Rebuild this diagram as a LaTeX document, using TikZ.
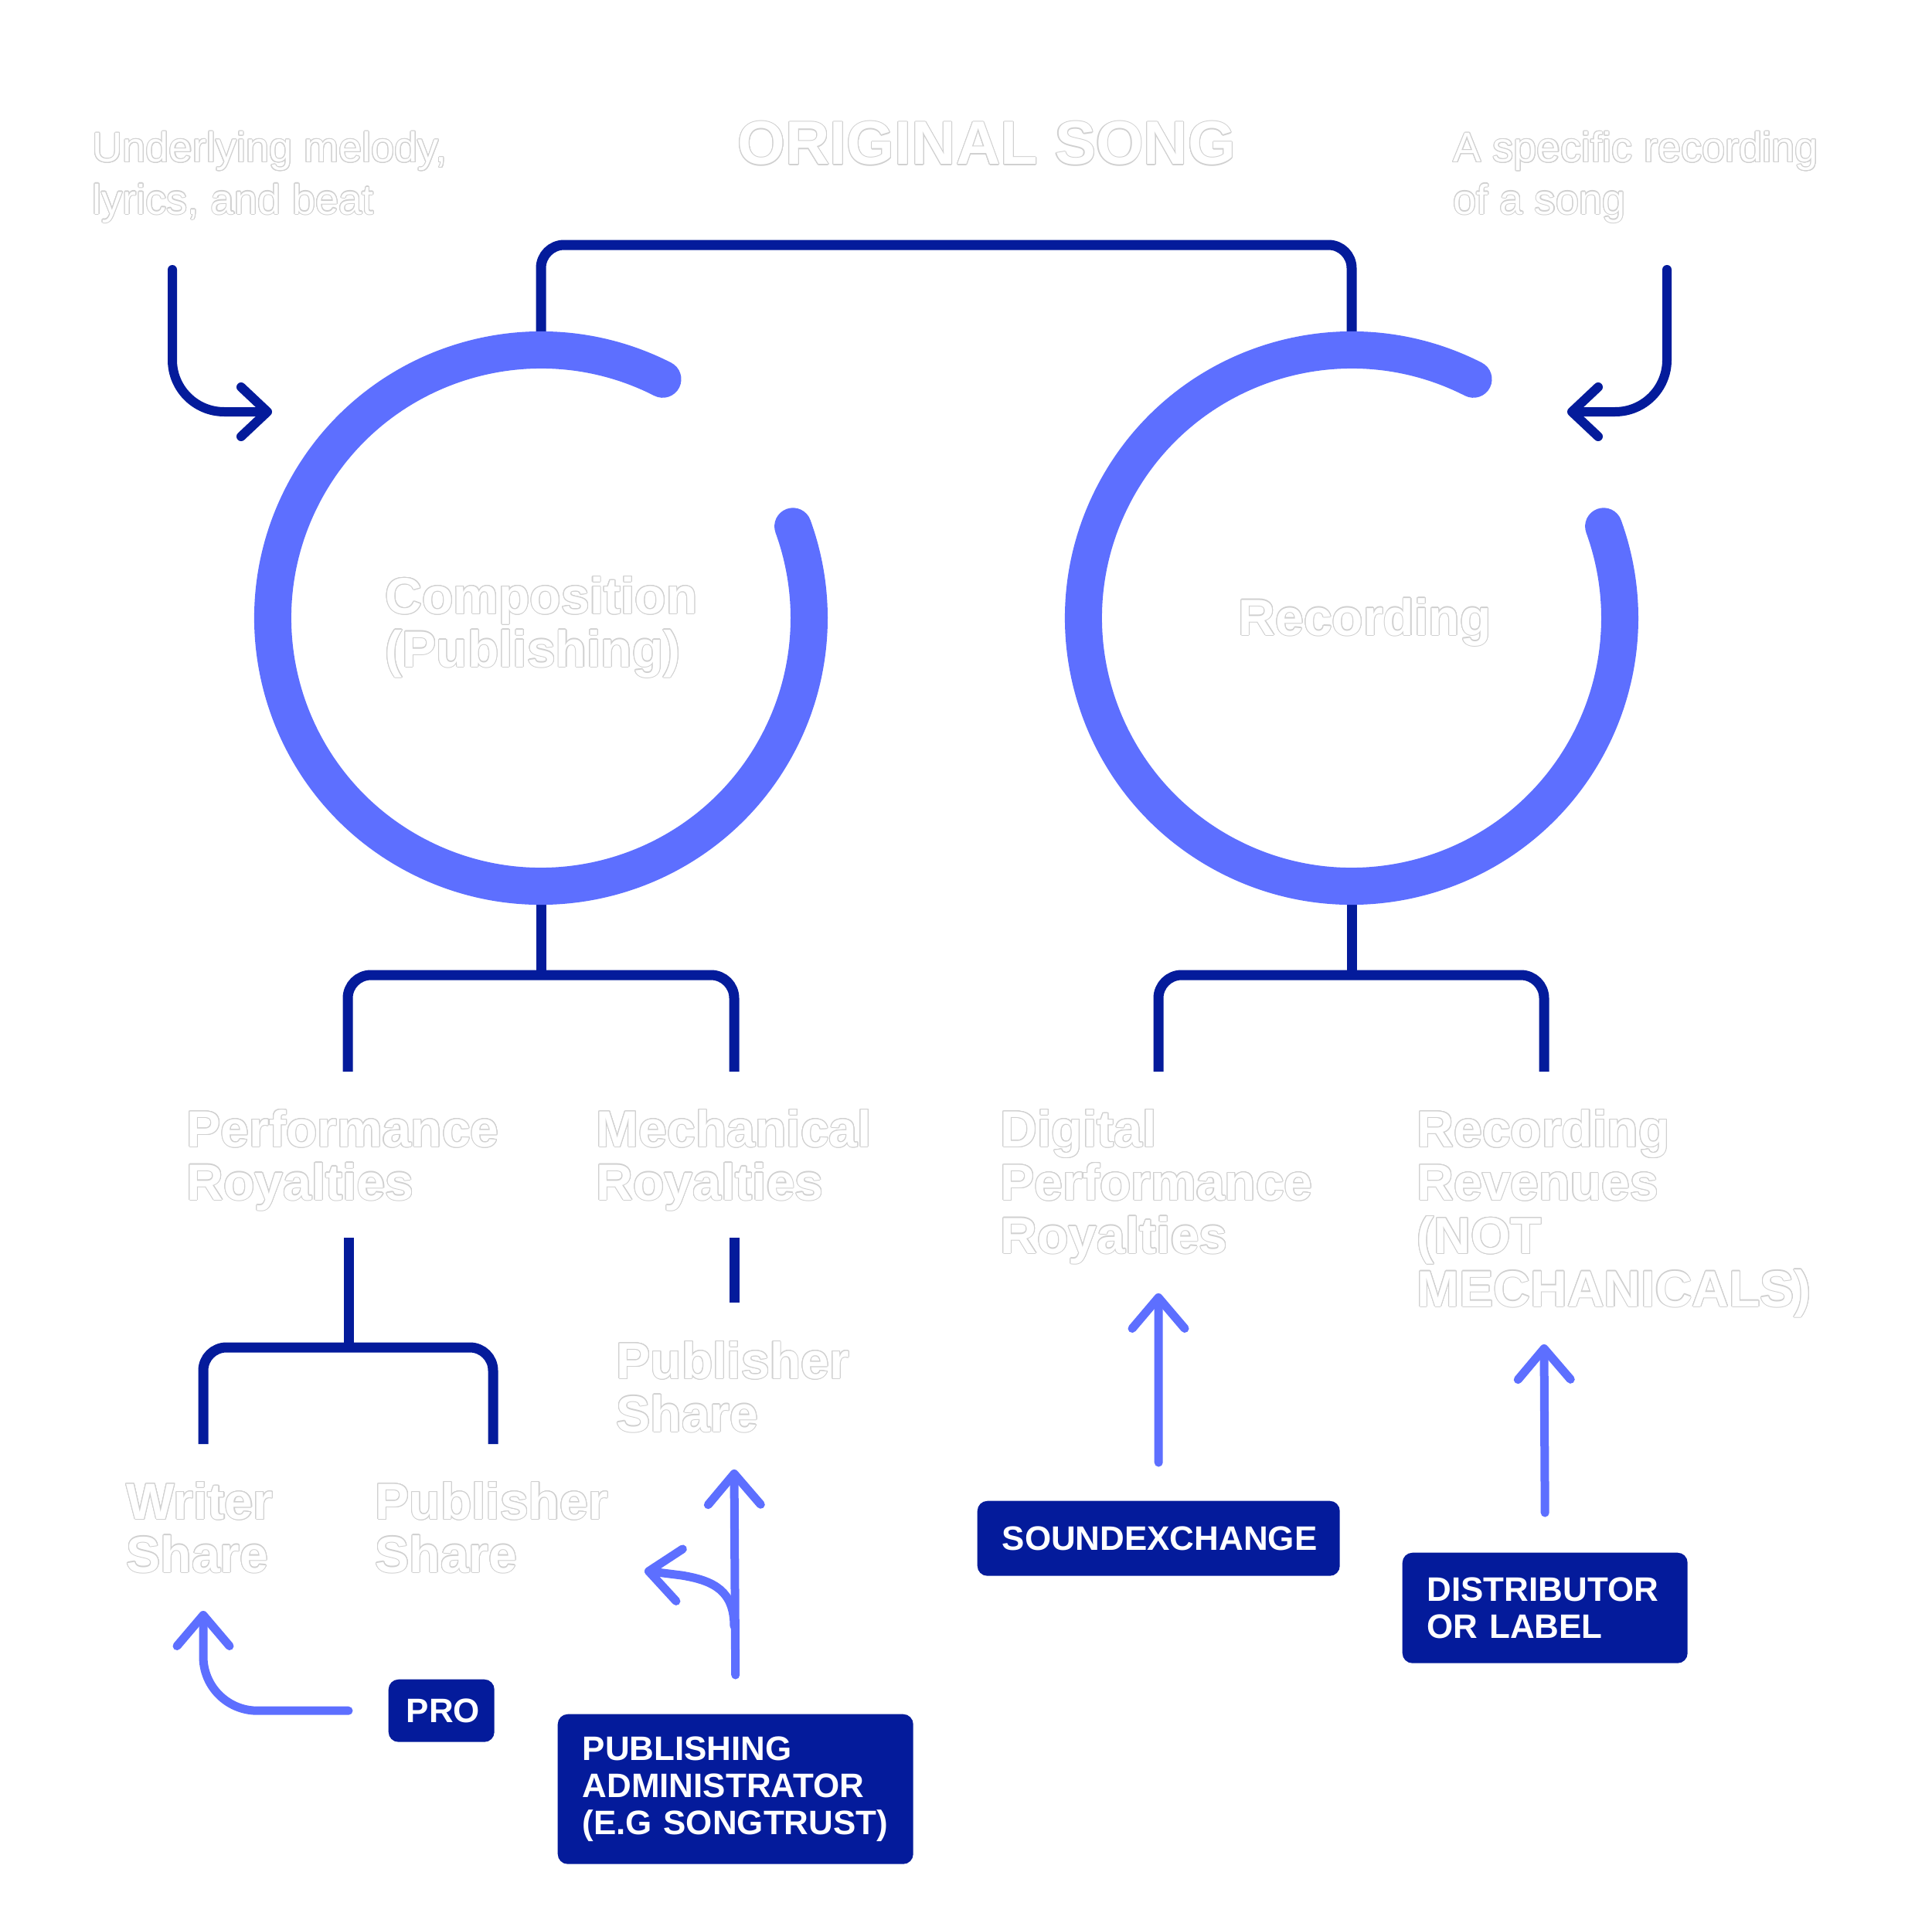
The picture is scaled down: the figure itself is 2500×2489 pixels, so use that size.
\documentclass[tikz,border=0pt]{standalone}
\usepackage{fontspec}
\setmainfont{Liberation Sans}
\usepackage{tikz}
\usetikzlibrary{arrows.meta,positioning}
\usepackage{contour}
\contourlength{0.3pt}
\contournumber{16}
\definecolor{navy}{HTML}{041B9B}
\definecolor{ringc}{HTML}{5D6FFF}
\definecolor{olg}{HTML}{D0D0D0}
\newcommand{\olt}[1]{\contour{olg}{#1}}
\tikzset{
  lbl/.style={anchor=base west, inner sep=0pt, align=left, text=white,
              font=\fontsize{18.8}{19.6}\selectfont\bfseries},
  note/.style={anchor=base west, inner sep=0pt, align=left, text=white,
               font=\fontsize{15.4}{19.1}\selectfont},
  tagbox/.style={anchor=north west, fill=navy, text=white, rounded corners=1.3mm,
                 inner xsep=3.2mm, inner ysep=0pt, align=left,
                 font=\fontsize{12.5}{13.7}\selectfont\bfseries},
  ringarc/.style={draw=ringc, line width=4.8mm, line cap=round},
  brk/.style={draw=navy, line width=1.3mm, rounded corners=3mm},
  hookarr/.style={draw=navy, line width=1.2mm, line cap=round, rounded corners=6.7mm,
                  -{Straight Barb[length=3.4mm, width=6.4mm, round]}},
  feedarr/.style={draw=ringc, line width=1.1mm, line cap=round,
                  -{Straight Barb[length=4mm, width=6.8mm, round]}}
}

\begin{document}
\begin{tikzpicture}[x=0.1mm, y=-0.1mm]
\useasboundingbox (0,0) rectangle (2500,2489);
\fill[white] (0,0) rectangle (2500,2489);

\coordinate (ct) at (700,800);
\coordinate (rt) at (1749,800);

% tree
\draw[brk] (700,430) -- (700,317) -| (1749,430);
\draw[brk] (700,1160) -- (700,1262);
\draw[brk] (450,1387) -- (450,1262) -| (950,1387);
\draw[brk] (1749,1160) -- (1749,1262);
\draw[brk] (1499,1387) -- (1499,1262) -| (1998,1387);
\draw[brk] (451,1602) -- (451,1744);
\draw[brk] (263,1869) -- (263,1744) -| (638,1869);
\draw[brk] (950,1602) -- (950,1686);

\draw[ringarc] (ct) ++(-63:347) arc[start angle=-63, end angle=-380, radius=347];
\draw[ringarc] (rt) ++(-63:347) arc[start angle=-63, end angle=-380, radius=347];

% base anchor = last line
\node[lbl, font=\fontsize{22.6}{23}\selectfont\bfseries] (title) at (954,213) {\olt{ORIGINAL SONG}};
\node[note] (mel) at (119,277) {\olt{Underlying melody,}\\\olt{lyrics, and beat}};
\node[note] (spec) at (1880,277) {\olt{A specific recording}\\\olt{of a song}};
\node[lbl] (comp) at (498,863) {\olt{Composition}\\\olt{(Publishing)}};
\node[lbl] (rec) at (1602,822) {\olt{Recording}};

\node[lbl] (perf) at (241,1553) {\olt{Performance}\\\olt{Royalties}};
\node[lbl] (mech) at (771,1553) {\olt{Mechanical}\\\olt{Royalties}};
\node[lbl] (dig) at (1294,1622) {\olt{Digital}\\\olt{Performance}\\\olt{Royalties}};
\node[lbl] (rrev) at (1833,1691) {\olt{Recording}\\\olt{Revenues}\\\olt{(NOT}\\\olt{MECHANICALS)}};
\node[lbl] (pubm) at (797,1853) {\olt{Publisher}\\\olt{Share}};
\node[lbl] (wri) at (163,2035) {\olt{Writer}\\\olt{Share}};
\node[lbl] (publ) at (485,2035) {\olt{Publisher}\\\olt{Share}};

\node[tagbox, text width=40.5mm, minimum height=9.7mm] (sx) at (1264,1942) {SOUNDEXCHANGE};
\node[tagbox, text width=30.5mm, minimum height=14.3mm] (dist) at (1814,2009) {DISTRIBUTOR\\OR LABEL};
\node[tagbox, text width=9.1mm, inner xsep=2.3mm, minimum height=8.1mm, align=center] (pro) at (502,2173) {PRO};
\node[tagbox, text width=39.6mm, minimum height=19.4mm] (padm) at (721,2218) {PUBLISHING\\ADMINISTRATOR\\(E.G SONGTRUST)};

\coordinate (melE) at (352,533);
\coordinate (specE) at (2028,533);
\draw[hookarr] (223,349) |- (melE);
\draw[hookarr] (2157,349) |- (specE);

\coordinate (wriE) at (263,2085);
\coordinate (pubmE) at (950,1902);
\coordinate (padB) at (950,2105);
\coordinate (publE) at (834,2033);
\coordinate (digE) at (1499,1674);
\coordinate (rrevE) at (1998,1740);
\draw[feedarr, rounded corners=7mm] ([xshift=-5.1mm]pro.west) -| (wriE);
\draw[feedarr] ([yshift=5mm]padm.north) -- (pubmE);
\draw[feedarr] (padB) .. controls (950,2060) and (925,2046) .. (882,2039) -- (publE);
\draw[feedarr] ([yshift=4.9mm]sx.north) -- (digE);
\draw[feedarr] ([yshift=5.1mm]dist.north) -- (rrevE);
\end{tikzpicture}
\end{document}
